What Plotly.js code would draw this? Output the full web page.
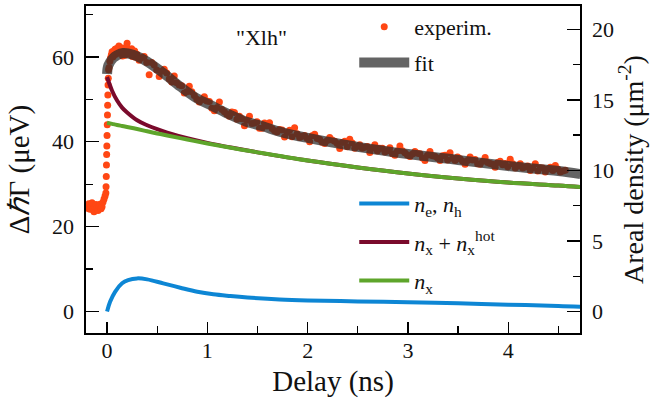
<!DOCTYPE html>
<html>
<head>
<meta charset="utf-8">
<script src="https://cdn.plot.ly/plotly-3.0.1.min.js"></script>
<style>
html,body{margin:0;padding:0;background:#fff;}
#chart{width:656px;height:410px;}
</style>
</head>
<body>
<div id="chart"></div>
<script>
// ---- Data ----
// Experimental points: delay (ns) and broadening (µeV)
const expT = [
 -0.20,-0.19,-0.18,-0.17,-0.16,-0.15,-0.14,-0.13,-0.12,-0.11,-0.10,-0.09,-0.08,-0.07,-0.06,-0.05,-0.04,-0.03,-0.02,
 -0.012,-0.010,-0.008,-0.006,-0.004,-0.002,0.000,0.002,0.004,0.006,0.008,0.010,0.012,0.015,
 0.020,0.035,0.050,0.065,0.080,0.095,0.110,0.125,0.140,0.155,0.170,0.185,0.200,0.215,0.230,0.245,0.260,0.275,0.290,
 0.32,0.37,0.42,0.47,0.52,0.57,0.62,0.67,0.72,0.77,0.82,0.87,0.92,0.97,1.02,1.07,1.12,1.17,1.22,1.27,1.32,1.37,1.42,1.47,
 1.52,1.57,1.62,1.67,1.72,1.77,1.82,1.87,1.92,1.97,2.02,2.07,2.12,2.17,2.22,2.27,2.32,2.37,2.42,2.47,2.52,2.57,2.62,2.67,
 2.72,2.77,2.82,2.87,2.92,2.97,3.02,3.07,3.12,3.17,3.22,3.27,3.32,3.37,3.42,3.47,3.52,3.57,3.62,3.67,3.72,3.77,3.82,3.87,
 3.92,3.97,4.02,4.07,4.12,4.17,4.22,4.27,4.32,4.37,4.42,4.47,4.52,4.57
];
const expV = [
 25.0,24.3,25.4,24.1,24.8,25.6,24.0,23.5,24.6,25.2,24.4,23.8,24.9,25.3,24.2,24.7,25.8,26.5,27.2,
 27.9,29.4,31.8,34.5,37.0,39.0,41.5,44.0,46.3,48.6,51.0,53.4,55.0,57.0,
 57.5,59.8,61.2,60.3,61.8,62.0,61.0,62.4,61.5,60.2,62.1,61.3,63.2,61.7,60.6,61.9,60.8,61.4,60.2,
 59.2,60.1,55.8,58.1,55.4,57.1,54.8,55.5,53.4,51.5,53.1,50.9,49.4,50.6,49.5,47.3,49.4,47.1,46.0,46.9,46.0,43.8,46.0,44.4,
 43.2,44.4,44.5,42.6,42.9,41.1,42.7,43.3,41.0,41.5,40.0,41.8,40.6,39.6,41.0,40.1,38.4,40.1,40.6,38.5,39.3,38.7,37.5,39.3,
 38.5,37.6,38.6,36.8,39.0,37.4,36.5,37.7,37.2,35.6,37.7,36.6,35.6,36.8,37.4,35.6,36.0,34.7,36.4,35.8,34.7,36.3,34.9,34.0,
 35.4,34.9,35.9,33.8,34.8,34.1,33.2,34.8,33.9,32.9,34.0,34.4,32.9,33.3
];
// Further experimental points lying between the ones above
const expT2 = [
 0.028,0.043,0.058,0.073,0.088,0.103,0.118,0.133,0.148,0.163,0.178,0.193,0.208,0.223,0.238,0.253,0.268,0.283,0.298,
 0.345,0.395,0.445,0.495,0.545,0.595,0.645,0.695,0.745,0.795,0.845,0.895,0.945,0.995,1.045,1.095,1.145,1.195,1.245,1.295,
 1.345,1.395,1.445,1.495,1.545,1.595,1.645,1.695,1.745,1.795,1.845,1.895,1.945,1.995,2.045,2.095,2.145,2.195,2.245,2.295,
 2.345,2.395,2.445,2.495,2.545,2.595,2.645,2.695,2.745,2.795,2.845,2.895,2.945,2.995,3.045,3.095,3.145,3.195,3.245,3.295,
 3.345,3.395,3.445,3.495,3.545,3.595,3.645,3.695,3.745,3.795,3.845,3.895,3.945,3.995,4.045,4.095,4.145,4.195,4.245,4.295,
 4.345,4.395,4.445,4.495,4.545
];
const expV2 = [
 59.0,60.5,60.0,61.5,60.6,61.3,62.6,60.9,61.9,61.0,60.4,62.3,60.9,61.6,60.5,60.1,61.2,59.9,60.6,
 59.8,58.7,58.7,56.9,56.6,56.2,54.1,53.9,53.2,51.8,51.8,50.0,49.9,49.6,47.9,48.0,47.6,46.5,47.0,45.3,
 45.4,45.1,44.3,44.7,43.2,43.7,43.1,42.3,42.8,42.2,41.2,41.9,41.3,40.8,41.4,40.8,39.9,40.3,40.4,39.6,
 39.8,38.8,39.7,38.9,38.5,38.9,38.5,37.8,38.5,37.9,37.2,37.8,37.9,36.9,37.1,37.3,36.2,36.8,36.7,36.2,
 36.7,35.7,36.1,36.4,35.4,35.6,35.7,34.8,35.4,35.1,34.7,35.1,34.6,34.1,34.8,34.3,33.8,34.3,33.9,33.1,
 33.8,33.6,33.2,33.6,33.1
];
// Fit (µeV)
const fitT = [0, 0.013, 0.06, 0.1, 0.16, 0.26, 0.4, 0.56, 0.73, 0.89, 1.06, 1.23, 1.39, 1.56, 1.72, 2, 2.5, 3, 3.5, 4, 4.5, 4.72];
const fitV = [56.0, 58.0, 59.7, 60.4, 60.9, 60.5, 58.9, 56.2, 53.0, 50.3, 48.3, 46.3, 44.7, 43.6, 42.4, 40.9, 38.8, 37.1, 35.7, 34.3, 33.1, 32.4];
// Densities (µm^-2)
const neT = [0, 0.03, 0.08, 0.15, 0.21, 0.3, 0.4, 0.56, 0.73, 0.9, 1.06, 1.23, 1.4, 1.72, 2.0, 2.5, 3.0, 3.5, 4.0, 4.5, 4.72];
const neV = [0, 0.69, 1.40, 2.0, 2.23, 2.35, 2.28, 2.0, 1.69, 1.40, 1.22, 1.10, 1.0, 0.86, 0.79, 0.72, 0.66, 0.58, 0.49, 0.39, 0.33];
const nxT = [0, 0.05, 0.1, 0.15, 0.2, 0.3, 0.4, 0.5, 0.6, 0.8, 1.0, 1.25, 1.5, 2, 2.5, 3, 3.5, 4, 4.5, 4.72];
const nxHotV = [16.62, 15.65, 14.95, 14.45, 14.10, 13.55, 13.20, 12.92, 12.68, 12.28, 11.95, 11.60, 11.28, 10.70, 10.21, 9.78, 9.43, 9.14, 8.93, 8.82];
const nxV = [13.38, 13.30, 13.22, 13.15, 13.08, 12.93, 12.77, 12.62, 12.48, 12.19, 11.91, 11.59, 11.28, 10.70, 10.21, 9.78, 9.43, 9.14, 8.93, 8.82];

const xTickVals = [0, 1, 2, 3, 4];
const yTickVals = [0, 20, 40, 60];
const y2TickVals = [0, 5, 10, 15, 20];

const FONT = 'Liberation Serif';

const traces = [
  {x: expT.concat(expT2), y: expV.concat(expV2), type: 'scatter', mode: 'markers', name: 'experim.',
   marker: {color: '#ff4714', size: 7}, legend: 'legend', legendgroup: 'a'},
  {x: fitT, y: fitV, type: 'scatter', mode: 'lines', name: 'fit',
   line: {color: 'rgba(40,40,40,0.72)', width: 10, shape: 'spline'}, legend: 'legend', legendgroup: 'b'},
  {x: neT, y: neV, yaxis: 'y2', type: 'scatter', mode: 'lines',
   name: '<i>n</i><sub>e</sub>, <i>n</i><sub>h</sub>',
   line: {color: '#0d86d4', width: 4, shape: 'spline'}, legend: 'legend2', legendgroup: 'c'},
  {x: nxT, y: nxHotV, yaxis: 'y2', type: 'scatter', mode: 'lines',
   name: '<i>n</i><sub>x</sub> + <i>n</i><sub>x</sub><sup>hot</sup>',
   line: {color: '#7a0a2c', width: 4, shape: 'spline'}, legend: 'legend2', legendgroup: 'd'},
  {x: nxT, y: nxV, yaxis: 'y2', type: 'scatter', mode: 'lines',
   name: '<i>n</i><sub>x</sub>',
   line: {color: '#5ea52b', width: 4, shape: 'spline'}, legend: 'legend2', legendgroup: 'e'}
];

const axisCommon = {
  showline: true, linecolor: '#000', linewidth: 1.6, showgrid: false, zeroline: false,
  ticks: 'inside', tickcolor: '#000', tickwidth: 1.4,
  tickfont: {family: FONT, size: 22, color: '#111'}
};

const layout = {
  width: 656, height: 410,
  margin: {l: 86, r: 76, t: 6, b: 77},
  paper_bgcolor: '#fff', plot_bgcolor: '#fff',
  font: {family: FONT, color: '#111'},
  xaxis: Object.assign({}, axisCommon, {
    range: [-0.21, 4.716], tickvals: xTickVals, ticklen: 11, mirror: true,
    minor: {dtick: 0.5, ticks: 'inside', ticklen: 7, tickcolor: '#000', tickwidth: 1.4},
    ticklabelstandoff: -3,
    title: {text: 'Delay (ns)', font: {family: FONT, size: 29, color: '#111'}, standoff: 8}
  }),
  yaxis: Object.assign({}, axisCommon, {
    range: [-5.07, 72.0], tickvals: yTickVals, ticklen: 13,
    minor: {dtick: 10, ticks: 'inside', ticklen: 7, tickcolor: '#000', tickwidth: 1.4},
    ticklabelstandoff: 6,
    title: {text: 'Δ<i>ℏ</i>Γ (μeV)', font: {family: FONT, size: 29, color: '#111'}, standoff: 14}
  }),
  yaxis2: Object.assign({}, axisCommon, {
    overlaying: 'y', side: 'right',
    range: [-1.52, 21.65], tickvals: y2TickVals, ticklen: 13,
    minor: {dtick: 2.5, ticks: 'inside', ticklen: 7, tickcolor: '#000', tickwidth: 1.4},
    ticklabelstandoff: 6,
    title: {text: 'Areal density (μm<sup>-2</sup>)', font: {family: FONT, size: 28, color: '#111'}, standoff: 10}
  }),
  showlegend: true,
  legend: {x: 0.543, y: 1.0, xanchor: 'left', yanchor: 'top', bgcolor: 'rgba(0,0,0,0)',
           font: {family: FONT, size: 22, color: '#111'}, itemwidth: 50, tracegroupgap: 4},
  legend2: {x: 0.543, y: 0.46, xanchor: 'left', yanchor: 'top', bgcolor: 'rgba(0,0,0,0)',
            font: {family: FONT, size: 22, color: '#111'}, itemwidth: 50, tracegroupgap: 7},
  annotations: [
    {text: '"Xlh"', xref: 'paper', yref: 'paper', x: 0.356, y: 0.905, xanchor: 'center', yanchor: 'middle',
     showarrow: false, font: {family: FONT, size: 22, color: '#111'}}
  ]
};

Plotly.newPlot('chart', traces, layout, {displayModeBar: false, staticPlot: true});
</script>
</body>
</html>
